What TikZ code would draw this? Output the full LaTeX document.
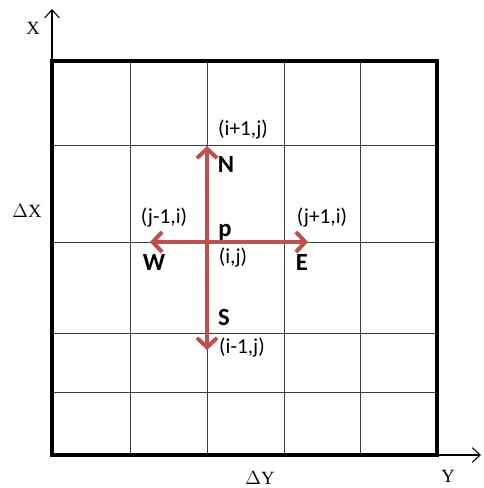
\documentclass[tikz,border=0pt]{standalone}
\usepackage{fontspec}
\setmainfont{Liberation Serif}
\newfontfamily\calibri{Carlito}
\definecolor{arrowred}{RGB}{192,80,77}
\definecolor{gridgray}{RGB}{60,60,60}
\usetikzlibrary{arrows.meta,positioning}

\begin{document}
\begin{tikzpicture}[x=0.75pt,y=-0.75pt,
    cell/.style={font=\calibri\fontsize{16}{18}\selectfont,inner sep=0pt},
    dirlabel/.style={font=\calibri\bfseries\fontsize{18.5}{20}\selectfont,inner sep=0pt},
    axislabel/.style={font=\fontsize{14}{16}\selectfont,inner sep=0pt},
    axis/.style={black,line width=0.8pt,-{Straight Barb[length=6pt,width=11pt]}},
    flux/.style={arrowred,line width=3pt,-{Straight Barb[length=7pt,width=15pt]}}]
  \useasboundingbox (0,0) rectangle (483,488);
  \foreach \x in {130,207,284,360}
    \draw[gridgray,line width=0.7pt] (\x,61) -- (\x,455);
  \foreach \y in {145,242,333,392}
    \draw[gridgray,line width=0.7pt] (52,\y) -- (437,\y);
  \draw[line width=3.5pt] (52,61) rectangle (437,455);
  \coordinate (topleft) at (52,61);
  \coordinate (botright) at (437,455);
  \coordinate (xtip) at (52,9);
  \coordinate (ytip) at (481,455);
  \draw[axis] (topleft) -- (xtip);
  \draw[axis] (botright) -- (ytip);
  \node[axislabel] (xlab) at (33,28) {X};
  \node[axislabel] (ylab) at (448,476) {Y};
  \node[axislabel] (dx) at (27,211) {$\Delta$X};
  \node[axislabel] (dy) at (260,478) {$\Delta$Y};
  % node p and its neighbours
  \coordinate (p) at (207,242);
  \coordinate (ntip) at (207,146);
  \coordinate (stip) at (207,350);
  \coordinate (wtip) at (150,242);
  \coordinate (etip) at (308,242);
  \draw[flux] (p) -- (ntip);
  \draw[flux] (p) -- (stip);
  \draw[flux] (p) -- (wtip);
  \draw[flux] (p) -- (etip);
  \node[dirlabel] (n) at (226,165) {N};
  \node[dirlabel] (s) at (224,317) {S};
  \node[dirlabel] (w) at (154,263) {W};
  \node[dirlabel] (e) at (302,263) {E};
  \node[dirlabel,anchor=base west] (plab) at (218,236) {p};
  \node[cell] (up) at (243,130) {(i+1,j)};
  \node[cell] (down) at (242,348) {(i-1,j)};
  \node[cell] (left) at (164,218) {(j-1,i)};
  \node[cell] (right) at (322,218) {(j+1,i)};
  \node[cell] (centre) at (233,258) {(i,j)};
\end{tikzpicture}
\end{document}
